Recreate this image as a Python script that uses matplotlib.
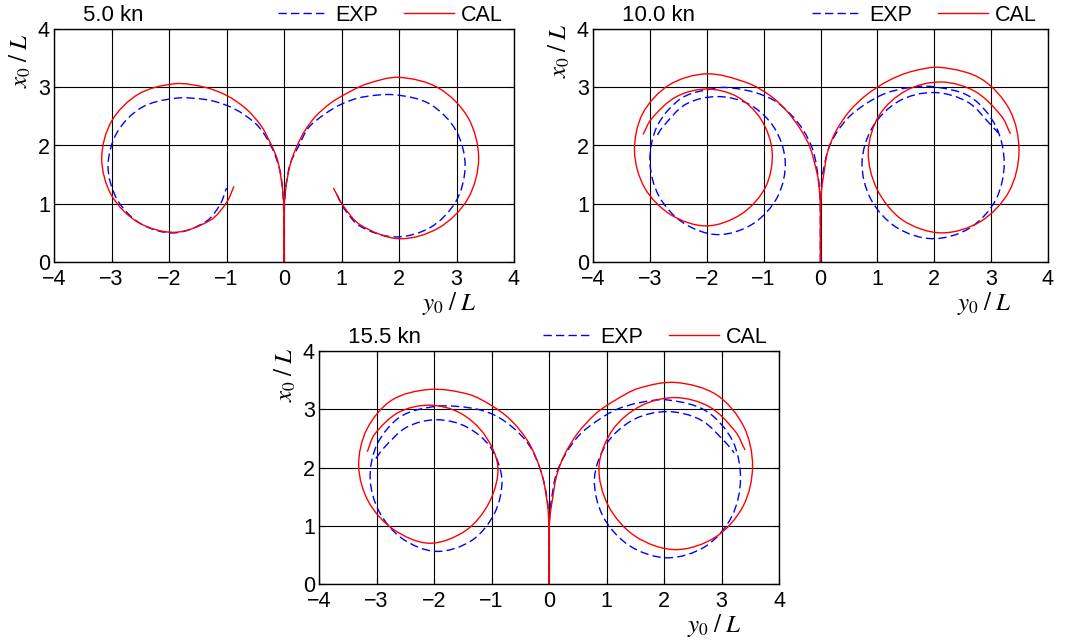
import numpy as np
import matplotlib
matplotlib.use('Agg')
import matplotlib.pyplot as plt
from matplotlib.path import Path
from matplotlib.patches import PathPatch
from matplotlib.lines import Line2D

plt.rcParams['font.family'] = ['Liberation Sans', 'DejaVu Sans']
plt.rcParams['mathtext.fontset'] = 'stix'

# turning trajectories, points are (y0/L, x0/L)
speeds = ['5.0 kn', '10.0 kn', '15.5 kn']

exp5_left = [(0, 0), (0, 0.6), (-0.01, 1.0), (-0.03, 1.3), (-0.07, 1.57), (-0.2, 1.94),
             (-0.43, 2.31), (-0.71, 2.54), (-1.0, 2.69), (-1.37, 2.79), (-1.9, 2.81),
             (-2.48, 2.65), (-2.9, 2.23), (-3.06, 1.65), (-2.9, 1.07), (-2.48, 0.65),
             (-1.9, 0.5), (-1.35, 0.7), (-1.11, 0.99), (-1.0, 1.27)]
cal5_left = [(0, 0), (0, 0.6), (-0.005, 1.0), (-0.03, 1.29), (-0.11, 1.74), (-0.23, 2.03),
             (-0.4, 2.34), (-0.66, 2.63), (-1.0, 2.86), (-1.38, 3.0), (-1.9, 3.06),
             (-2.535, 2.88), (-3.0, 2.415), (-3.17, 1.78), (-3.0, 1.145), (-2.535, 0.68),
             (-1.9, 0.51), (-1.285, 0.715), (-1.0, 1.02), (-0.87, 1.3)]
exp5_right = [(0, 0), (0, 0.6), (0.01, 1.0), (0.04, 1.35), (0.11, 1.69), (0.26, 2.0),
              (0.43, 2.31), (0.71, 2.54), (1.0, 2.71), (1.36, 2.83), (1.93, 2.87),
              (2.54, 2.71), (2.99, 2.26), (3.15, 1.65), (2.99, 1.04), (2.54, 0.59),
              (1.93, 0.43), (1.33, 0.61), (1.05, 0.91), (0.9, 1.2)]
cal5_right = [(0, 0), (0, 0.6), (0.005, 1.0), (0.03, 1.25), (0.07, 1.5), (0.13, 1.75),
              (0.23, 2.0), (0.36, 2.25), (0.55, 2.5), (0.8, 2.72), (1.1, 2.9), (1.45, 3.06),
              (2.0, 3.17), (2.69, 2.985), (3.2, 2.48), (3.385, 1.785), (3.2, 1.09),
              (2.69, 0.585), (2.0, 0.4), (1.335, 0.633), (1.027, 0.969), (0.86, 1.27)]

exp10_left = [(0, 0), (0, 0.6), (-0.005, 1.0), (-0.02, 1.25), (-0.04, 1.46), (-0.13, 1.91),
              (-0.3, 2.26), (-0.53, 2.54), (-0.81, 2.77), (-1.15, 2.91), (-1.5, 2.98),
              (-1.8, 2.99), (-2.43, 2.82), (-2.865, 2.345), (-3.0, 1.73), (-2.84, 1.13),
              (-2.41, 0.67), (-1.8, 0.47), (-1.18, 0.66), (-0.75, 1.13), (-0.62, 1.73),
              (-0.81, 2.3), (-1.24, 2.7), (-1.8, 2.84), (-2.365, 2.71), (-2.78, 2.31),
              (-2.9, 2.12)]
cal10_left = [(0, 0), (0, 0.6), (-0.005, 1.0), (-0.02, 1.25), (-0.06, 1.52), (-0.19, 1.98),
              (-0.36, 2.29), (-0.6, 2.6), (-0.89, 2.86), (-1.3, 3.08), (-2.0, 3.23),
              (-2.66, 3.04), (-3.126, 2.55), (-3.27, 1.9), (-3.09, 1.27), (-2.63, 0.81),
              (-2.0, 0.62), (-1.38, 0.83), (-0.96, 1.3), (-0.85, 1.9), (-1.047, 2.45),
              (-1.46, 2.835), (-2.0, 2.97), (-2.54, 2.835), (-2.97, 2.46), (-3.12, 2.19)]
exp10_right = [(0, 0), (0, 0.6), (0.005, 1.0), (0.015, 1.25), (0.03, 1.46), (0.13, 1.91),
               (0.27, 2.2), (0.5, 2.49), (0.79, 2.71), (1.13, 2.89), (1.53, 2.99),
               (1.98, 3.01), (2.635, 2.834), (3.08, 2.335), (3.23, 1.7), (3.08, 1.065),
               (2.625, 0.583), (1.98, 0.4), (1.34, 0.591), (0.889, 1.07), (0.73, 1.7),
               (0.915, 2.315), (1.37, 2.757), (1.98, 2.91), (2.585, 2.748), (3.037, 2.31),
               (3.12, 2.22)]
cal10_right = [(0, 0), (0, 0.6), (0.005, 1.0), (0.02, 1.25), (0.05, 1.46), (0.13, 1.91),
               (0.28, 2.26), (0.51, 2.59), (0.81, 2.87), (1.19, 3.11), (1.6, 3.27),
               (2.12, 3.34), (2.835, 3.138), (3.332, 2.6), (3.49, 1.9), (3.315, 1.21),
               (2.815, 0.696), (2.12, 0.5), (1.44, 0.722), (0.994, 1.25), (0.84, 1.9),
               (1.037, 2.525), (1.515, 2.948), (2.12, 3.09), (2.715, 2.93), (3.177, 2.51),
               (3.34, 2.2)]

exp15_left = [(0, 0), (0, 0.6), (-0.005, 1.0), (-0.01, 1.27), (-0.07, 1.67), (-0.17, 2.02),
              (-0.35, 2.39), (-0.61, 2.67), (-0.95, 2.9), (-1.35, 3.02), (-1.96, 3.05),
              (-2.58, 2.874), (-2.991, 2.395), (-3.11, 1.8), (-2.947, 1.23), (-2.55, 0.778),
              (-1.96, 0.56), (-1.35, 0.743), (-0.947, 1.215), (-0.82, 1.8), (-1.016, 2.345),
              (-1.44, 2.7), (-1.96, 2.82), (-2.475, 2.692), (-2.878, 2.33), (-3.03, 2.13)]
cal15_left = [(0, 0), (0, 0.6), (-0.005, 1.0), (-0.01, 1.2), (-0.03, 1.39), (-0.1, 1.79),
              (-0.21, 2.13), (-0.38, 2.47), (-0.67, 2.82), (-1.01, 3.07), (-1.41, 3.26),
              (-2.08, 3.34), (-2.735, 3.155), (-3.171, 2.65), (-3.31, 2.02), (-3.137, 1.41),
              (-2.705, 0.937), (-2.08, 0.7), (-1.445, 0.92), (-1.032, 1.415), (-0.89, 2.02),
              (-1.127, 2.57), (-1.55, 2.938), (-2.08, 3.07), (-2.615, 2.947), (-3.033, 2.57),
              (-3.16, 2.27)]
exp15_right = [(0, 0), (0, 0.6), (0.005, 1.0), (0.02, 1.25), (0.05, 1.5), (0.13, 1.9),
               (0.3, 2.25), (0.53, 2.56), (0.82, 2.79), (1.16, 2.99), (1.56, 3.11),
               (2.06, 3.16), (2.735, 2.969), (3.194, 2.455), (3.33, 1.8), (3.177, 1.155),
               (2.725, 0.648), (2.06, 0.45), (1.4, 0.657), (0.943, 1.155), (0.79, 1.8),
               (1.003, 2.41), (1.47, 2.822), (2.06, 2.96), (2.645, 2.813), (3.099, 2.4),
               (3.22, 2.25)]
cal15_right = [(0, 0), (0, 0.6), (0.005, 1.0), (0.02, 1.2), (0.05, 1.39), (0.13, 1.85),
               (0.27, 2.22), (0.5, 2.59), (0.82, 2.93), (1.16, 3.16), (1.56, 3.36),
               (2.2, 3.46), (2.91, 3.25), (3.386, 2.705), (3.54, 2.02), (3.378, 1.34),
               (2.9, 0.808), (2.2, 0.59), (1.505, 0.816), (1.031, 1.345), (0.87, 2.02),
               (1.109, 2.65), (1.6, 3.059), (2.2, 3.2), (2.79, 3.042), (3.239, 2.62),
               (3.41, 2.3)]

exp_tracks = [[exp5_left, exp5_right], [exp10_left, exp10_right], [exp15_left, exp15_right]]
cal_tracks = [[cal5_left, cal5_right], [cal10_left, cal10_right], [cal15_left, cal15_right]]

xticks = [-4, -3, -2, -1, 0, 1, 2, 3, 4]
yticks = [0, 1, 2, 3, 4]


def track_path(pts):
    # smooth bezier path through the track points, tangents scaled by chord length
    p = np.asarray(pts, float)
    q = np.vstack([p[0], p, p[-1]])
    verts = [p[0]]
    codes = [Path.MOVETO]
    for i in range(1, len(q) - 2):
        p0, p1, p2, p3 = q[i - 1], q[i], q[i + 1], q[i + 2]
        d1 = np.hypot(*(p1 - p0))
        d2 = np.hypot(*(p2 - p1))
        d3 = np.hypot(*(p3 - p2))
        c1 = p1 + (p2 - p0) * d2 / (3.0 * (d1 + d2))
        c2 = p2 - (p3 - p1) * d2 / (3.0 * (d2 + d3))
        verts += [c1, c2, p2]
        codes += [Path.CURVE4] * 3
    return Path(verts, codes)


exp_style = dict(edgecolor='#0000ff', lw=1.0, linestyle=(0, (6, 3)))
cal_style = dict(edgecolor='#ff0000', lw=1.0, linestyle='-')

fig = plt.figure(figsize=(10.65, 6.42), dpi=100)
W, H = 1065.0, 642.0
# axes boxes in pixels: left, top, width, height
boxes = [(54, 29, 460, 233), (593, 29, 455, 233), (319, 351, 460, 233)]
ylab_y = [0.863, 0.906, 0.897]

fs = 15.5
for k in range(3):
    l, t, w, h = boxes[k]
    ax = fig.add_axes([l / W, 1 - (t + h) / H, w / W, h / H])

    for tr in exp_tracks[k]:
        ax.add_patch(PathPatch(track_path(tr), fill=False, **exp_style))
    for tr in cal_tracks[k]:
        ax.add_patch(PathPatch(track_path(tr), fill=False, **cal_style))

    ax.set_xlim(-4, 4)
    ax.set_ylim(0, 4)
    ax.set_xticks(xticks)
    ax.set_yticks(yticks)
    ax.grid(True, color='k', lw=0.8)
    ax.set_axisbelow(True)
    ax.tick_params(direction='in', length=4, top=True, right=True,
                   labelsize=fs, width=0.8)
    ax.tick_params(axis='x', pad=5)
    ax.tick_params(axis='y', pad=3)
    for s in ax.spines.values():
        s.set_linewidth(1.0)

    ax.text(-0.073, ylab_y[k], r'$x_0\;/\;L$', transform=ax.transAxes, rotation=90,
            ha='center', va='center', fontsize=18)
    ax.text(0.86, -0.178, r'$y_0\;/\;L$', transform=ax.transAxes,
            ha='center', va='center', fontsize=18)
    ax.text(0.063, 1.06, speeds[k], transform=ax.transAxes,
            ha='left', va='center', fontsize=16)
    h_exp = Line2D([], [], color='#0000ff', lw=1.0, dashes=(6, 3))
    h_cal = Line2D([], [], color='#ff0000', lw=1.0)
    ax.legend([h_exp, h_cal], ['EXP', 'CAL'], loc='center right',
              bbox_to_anchor=(0.976, 1.06), ncol=2, frameon=False, fontsize=fs,
              handlelength=2.3, handletextpad=0.35, columnspacing=1.2,
              borderpad=0, borderaxespad=0)

plt.savefig('out.png', dpi=100)
